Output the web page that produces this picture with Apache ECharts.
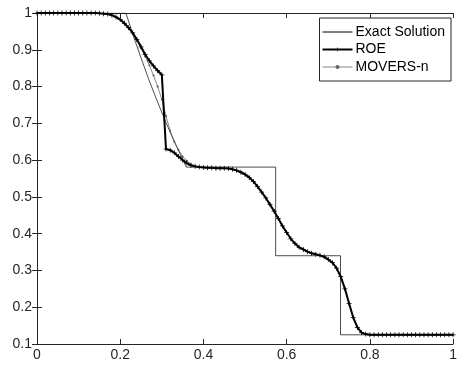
<!DOCTYPE html>
<html>
<head>
<meta charset="utf-8">
<script src="https://cdn.jsdelivr.net/npm/echarts@6/dist/echarts.min.js"></script>
<style>
  html, body { margin: 0; padding: 0; background: #fff; }
  #chart { width: 460px; height: 369px; }
</style>
</head>
<body>
<div id="chart"></div>
<script>
// Density profile at final time: exact Riemann solution vs. two numerical schemes.

// Exact solution (rarefaction fan, plateau, contact, shock)
const exactX = [0, 0.2136, 0.2318, 0.2500, 0.2681, 0.2863, 0.3045, 0.3227, 0.3408, 0.3590,
                0.5735, 0.5735, 0.7294, 0.7294, 1];
const exactY = [1, 1, 0.937, 0.878, 0.821, 0.768, 0.717, 0.669, 0.624, 0.581,
                0.581, 0.340, 0.340, 0.125, 0.125];

// Mesh nodes x = 0, 0.01, ..., 1
const nNodes = 101;
const nodeX = Array.from({ length: nNodes }, (_, i) => i / (nNodes - 1));

// ROE scheme
const roeY = [
  1.000, 1.000, 1.000, 1.000, 1.000, 1.000, 1.000, 1.000, 1.000, 1.000,
  1.000, 1.000, 1.000, 1.000, 1.000, 0.999, 0.998, 0.997, 0.994, 0.989,
  0.982, 0.972, 0.960, 0.946, 0.928, 0.908, 0.887, 0.870, 0.856, 0.843,
  0.832, 0.630, 0.627, 0.620, 0.610, 0.600, 0.592, 0.586, 0.583, 0.581,
  0.580, 0.579, 0.579, 0.578, 0.578, 0.578, 0.577, 0.575, 0.572, 0.567,
  0.561, 0.553, 0.542, 0.528, 0.513, 0.497, 0.479, 0.461, 0.441, 0.421,
  0.403, 0.386, 0.373, 0.363, 0.357, 0.351, 0.347, 0.344, 0.341, 0.337,
  0.330, 0.321, 0.306, 0.283, 0.250, 0.210, 0.172, 0.145, 0.131, 0.127,
  0.125, 0.125, 0.125, 0.125, 0.125, 0.125, 0.125, 0.125, 0.125, 0.125,
  0.125, 0.125, 0.125, 0.125, 0.125, 0.125, 0.125, 0.125, 0.125, 0.125,
  0.125
];

// MOVERS-n scheme
const moversY = [
  1.000, 1.000, 1.000, 1.000, 1.000, 1.000, 1.000, 1.000, 1.000, 1.000,
  1.000, 1.000, 1.000, 1.000, 1.000, 0.999, 0.998, 0.997, 0.994, 0.989,
  0.982, 0.972, 0.960, 0.945, 0.926, 0.905, 0.882, 0.858, 0.830, 0.800,
  0.765, 0.720, 0.680, 0.650, 0.628, 0.610, 0.598, 0.589, 0.584, 0.581,
  0.580, 0.579, 0.579, 0.578, 0.578, 0.578, 0.577, 0.575, 0.572, 0.567,
  0.561, 0.553, 0.542, 0.528, 0.513, 0.497, 0.479, 0.461, 0.441, 0.421,
  0.403, 0.386, 0.373, 0.363, 0.357, 0.351, 0.347, 0.344, 0.341, 0.337,
  0.330, 0.321, 0.306, 0.283, 0.250, 0.210, 0.172, 0.145, 0.131, 0.127,
  0.125, 0.125, 0.125, 0.125, 0.125, 0.125, 0.125, 0.125, 0.125, 0.125,
  0.125, 0.125, 0.125, 0.125, 0.125, 0.125, 0.125, 0.125, 0.125, 0.125,
  0.125
];

const seriesNames = ['Exact Solution', 'ROE', 'MOVERS-n'];

const zip = (xs, ys) => xs.map((x, i) => [x, ys[i]]);

const axisColor = '#262626';
const fontFamily = '"Liberation Sans", Arial, Helvetica, sans-serif';
const star = 'path://M-0.15,-1H0.15V-0.15H1V0.15H0.15V1H-0.15V0.15H-1V-0.15H-0.15Z';

const chart = echarts.init(document.getElementById('chart'), null, { renderer: 'canvas' });

const baseAxis = {
  type: 'value',
  axisLine: { show: true, lineStyle: { color: axisColor, width: 1 } },
  axisTick: { show: true, inside: true, length: 5, lineStyle: { color: axisColor, width: 1 } },
  splitLine: { show: false },
  axisLabel: { color: axisColor, fontSize: 14, fontFamily: fontFamily }
};

chart.setOption({
  animation: false,
  backgroundColor: '#fff',
  grid: { left: 37, right: 2, top: 13, bottom: 25, containLabel: false },
  legend: {
    data: [
      { name: seriesNames[0], lineStyle: { color: '#000', width: 1 }, itemStyle: { opacity: 0 } },
      { name: seriesNames[1], lineStyle: { color: '#000', width: 2 }, itemStyle: { color: '#000' } },
      { name: seriesNames[2], lineStyle: { color: '#666', width: 0.8 }, itemStyle: { color: '#666' } }
    ],
    orient: 'vertical',
    right: 9,
    top: 18,
    itemWidth: 30,
    itemHeight: 5,
    itemGap: 1.5,
    padding: [6, 6, 6, 2],
    backgroundColor: '#fff',
    borderColor: axisColor,
    borderWidth: 1,
    textStyle: { fontSize: 14, color: '#000', fontFamily: fontFamily, lineHeight: 16, padding: [0, 0, 0, -2] }
  },
  xAxis: [
    Object.assign({}, baseAxis, {
      position: 'bottom', min: 0, max: 1, interval: 0.2,
      axisLabel: Object.assign({}, baseAxis.axisLabel, { margin: 4 })
    }),
    Object.assign({}, baseAxis, {
      position: 'top', min: 0, max: 1, interval: 0.2,
      axisLabel: { show: false }
    })
  ],
  yAxis: [
    Object.assign({}, baseAxis, {
      position: 'left', min: 0.1, max: 1, interval: 0.1,
      axisLabel: Object.assign({}, baseAxis.axisLabel, { margin: 5 })
    }),
    Object.assign({}, baseAxis, {
      position: 'right', min: 0.1, max: 1, interval: 0.1,
      axisLabel: { show: false }
    })
  ],
  series: [
    {
      name: seriesNames[0],
      type: 'line',
      data: zip(exactX, exactY),
      showSymbol: false,
      symbol: 'none',
      lineStyle: { color: '#000', width: 0.7 },
      itemStyle: { color: '#000' },
      z: 2
    },
    {
      name: seriesNames[2],
      type: 'line',
      data: zip(nodeX, moversY),
      symbol: 'circle',
      symbolSize: 2,
      showAllSymbol: true,
      lineStyle: { color: '#555', width: 0.7 },
      itemStyle: { color: '#555' },
      z: 3
    },
    {
      name: seriesNames[1],
      type: 'line',
      data: zip(nodeX, roeY),
      symbol: star,
      symbolSize: 5,
      showAllSymbol: true,
      lineStyle: { color: '#000', width: 2 },
      itemStyle: { color: '#000' },
      z: 4
    }
  ]
});
</script>
</body>
</html>
